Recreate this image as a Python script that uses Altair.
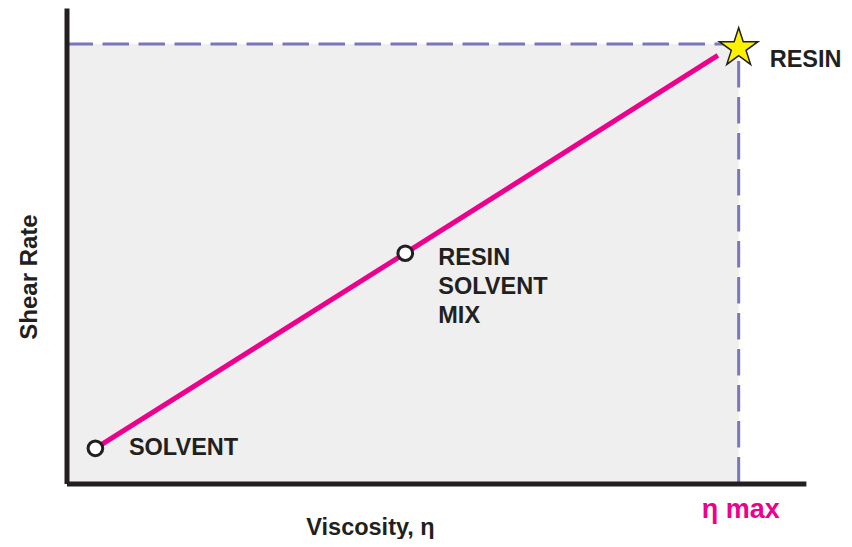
import math
import altair as alt
import pandas as pd

# ---- data ----
point_names = ["SOLVENT", "MIX", "RESIN"]
point_labels = ["SOLVENT", "RESIN\nSOLVENT\nMIX", "RESIN"]
viscosity = [4.3, 50.4, 100.0]
shear_rate = [8.0, 52.4, 99.1]
line_viscosity = [4.3, 50.4, 96.9]
line_shear = [8.0, 52.4, 97.4]
eta_max = 100.0
shear_max = 100.0
eta_label = "η max"
x_title = "Viscosity, η"
y_title = "Shear Rate"
x_domain = [0, 110]
y_domain = [0, 108.2]

points = pd.DataFrame({"name": point_names, "label": point_labels,
                       "viscosity": viscosity, "shear": shear_rate})
line_df = pd.DataFrame({"viscosity": line_viscosity, "shear": line_shear})
limits = pd.DataFrame({"eta_max": [eta_max], "shear_max": [shear_max],
                       "zero": [0.0], "label": [eta_label]})

INK = "#231f20"
MAGENTA = "#ec008c"
DASH = "#7b76b9"
FONT = "Liberation Sans"
FS = 23.5

# five-pointed star symbol (unit radius)
pts = []
for k in range(10):
    r = 1.0 if k % 2 == 0 else 0.382
    a = math.radians(-90 + 36 * k)
    pts.append(f"{r*math.cos(a):.4f},{r*math.sin(a):.4f}")
STAR = "M" + "L".join(pts) + "Z"

xs = alt.Scale(domain=x_domain, nice=False, zero=False)
ys = alt.Scale(domain=y_domain, nice=False, zero=False)

x_axis = alt.Axis(title=x_title, domain=True, domainColor=INK, domainWidth=5,
                  ticks=False, labels=False, grid=False,
                  titleFont=FONT, titleFontSize=FS, titleFontWeight="bold",
                  titleColor=INK, titleX=303.5, titleY=50.5, titleAlign="center",
                  titleBaseline="alphabetic", zindex=1)
y_axis = alt.Axis(title=y_title, domain=True, domainColor=INK, domainWidth=5,
                  ticks=False, labels=False, grid=False,
                  titleFont=FONT, titleFontSize=24, titleFontWeight="bold",
                  titleColor=INK, titleX=-29.8, titleY=268.5, titleAngle=270,
                  titleAlign="center", titleBaseline="alphabetic", zindex=1)


def X(f):
    return alt.X(f, type="quantitative", scale=xs, axis=x_axis)


def Y(f):
    return alt.Y(f, type="quantitative", scale=ys, axis=y_axis)


region = alt.Chart(limits).mark_rect(color="#efefef").encode(
    x=X("zero"), x2="eta_max", y=Y("zero"), y2="shear_max")

h_dash = alt.Chart(limits).mark_rule(color=DASH, strokeWidth=3, strokeDash=[26.5, 9.5]).encode(
    x=X("zero"), x2="eta_max", y=Y("shear_max"))

v_dash = alt.Chart(limits).mark_rule(color=DASH, strokeWidth=3, strokeDash=[26.5, 9.5]).encode(
    x=X("eta_max"), y=Y("zero"), y2="shear_max")

line = alt.Chart(line_df).mark_line(color=MAGENTA, strokeWidth=5, strokeCap="butt").encode(
    x=X("viscosity"), y=Y("shear"))

circles = alt.Chart(points).transform_filter(alt.datum.name != "RESIN").mark_point(
    shape="circle", filled=True, fill="white", stroke=INK, strokeWidth=3,
    size=215, opacity=1).encode(x=X("viscosity"), y=Y("shear"))

star = alt.Chart(points).transform_filter(alt.datum.name == "RESIN").mark_point(
    shape=STAR, filled=True, fill="#fff200", stroke=INK, strokeWidth=1.5,
    size=1650, opacity=1).encode(x=X("viscosity"), y=Y("shear"))


def label(name, dx, dy):
    return alt.Chart(points).transform_filter(alt.datum.name == name).mark_text(
        align="left", baseline="alphabetic", font=FONT, fontSize=FS, fontWeight="bold",
        color=INK, dx=dx, dy=dy, lineBreak="\n", lineHeight=29).encode(
        x=X("viscosity"), y=Y("shear"), text="label:N")


lab_solvent = label("SOLVENT", 33.5, 6.5)
lab_mix = label("MIX", 33, 12)
lab_resin = label("RESIN", 31, 18.8)

eta_text = alt.Chart(limits).mark_text(
    align="center", baseline="alphabetic", font=FONT, fontSize=27, fontWeight="bold",
    color=MAGENTA, dx=2, dy=34).encode(x=X("eta_max"), y=Y("zero"), text="label:N")

chart = alt.layer(region, h_dash, v_dash, line, circles, star,
                  lab_solvent, lab_mix, lab_resin, eta_text).properties(
    width=739.4, height=475.5, autosize="none",
    padding={"left": 58.5, "top": 0, "right": 38.1, "bottom": 55.5},
).configure_view(stroke=None)

chart.save("out.html", embed_options={"renderer": "svg", "actions": False})
